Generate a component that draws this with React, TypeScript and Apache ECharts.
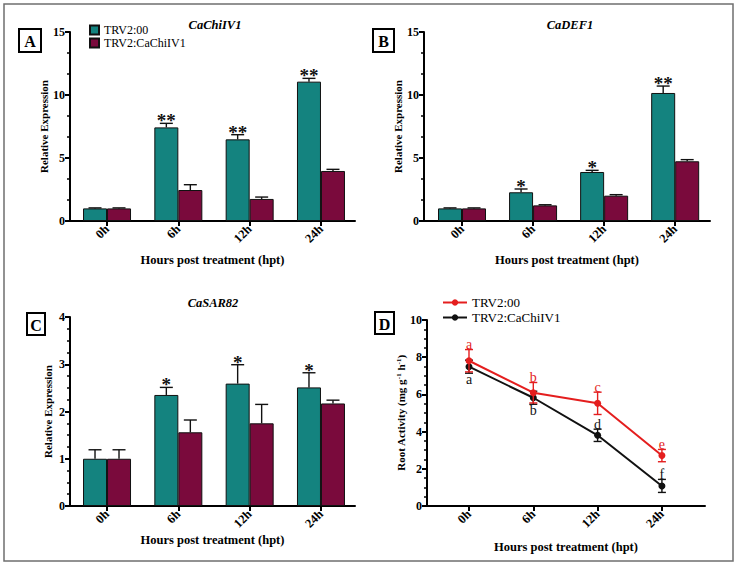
import React, { useEffect, useRef } from 'react';
import * as echarts from 'echarts';

const FONT = "'Liberation Serif', 'Times New Roman', serif";

// ---------- data ----------
const hours = ['0h', '6h', '12h', '24h'];
const groupNames = ['TRV2:00', 'TRV2:CaChiIV1'];
const xPositions = [0, 1, 2, 3];

// Panel A: CaChiIV1
const aCtrl = [1.0, 7.43, 6.48, 11.06];
const aCtrlErr = [0.04, 0.32, 0.37, 0.26];
const aSil = [1.0, 2.46, 1.75, 3.97];
const aSilErr = [0.04, 0.42, 0.15, 0.13];
const aStars = ['', '**', '**', '**'];

// Panel B: CaDEF1
const bCtrl = [1.0, 2.28, 3.89, 10.16];
const bCtrlErr = [0.04, 0.26, 0.13, 0.55];
const bSil = [1.0, 1.24, 2.01, 4.74];
const bSilErr = [0.04, 0.05, 0.08, 0.13];
const bStars = ['', '*', '*', '**'];

// Panel C: CaSAR82
const cCtrl = [1.0, 2.35, 2.59, 2.51];
const cCtrlErr = [0.19, 0.16, 0.4, 0.31];
const cSil = [1.0, 1.56, 1.75, 2.17];
const cSilErr = [0.19, 0.26, 0.4, 0.07];
const cStars = ['', '*', '*', '*'];

// Panel D: root activity
const dCtrl = [7.81, 6.09, 5.52, 2.71];
const dCtrlErr = [0.6, 0.55, 0.6, 0.33];
const dSil = [7.49, 5.82, 3.8, 1.08];
const dSilErr = [0.35, 0.35, 0.33, 0.35];
const dCtrlLetters = ['a', 'b', 'c', 'e'];
const dCtrlLetterSide = ['above', 'above', 'above', 'above'];
const dSilLetters = ['a', 'b', 'd', 'f'];
const dSilLetterSide = ['below', 'below', 'above', 'above'];

const panelTitles = ['CaChiIV1', 'CaDEF1', 'CaSAR82'];
const panelLetters = ['A', 'B', 'C', 'D'];
const xName = 'Hours post treatment (hpt)';
const yNameExp = 'Relative Expression';
const yNameRoot = 'Root Activity (mg g{s|-1} h{s|-1})';

// ---------- styles ----------
const TEAL = '#14837f';
const MAROON = '#7a0a3c';
const RED = '#e41e1e';
const BLACK = '#111111';
const D_SUFFIX = ' (D)';

const grids = [
  { left: 70, top: 32, width: 285, height: 189 },
  { left: 424, top: 32, width: 286, height: 189 },
  { left: 70, top: 317, width: 285, height: 189 },
  { left: 427, top: 320, width: 278, height: 186 },
];
const xRanges = [
  [-0.519, 3.477],
  [-0.535, 3.49],
  [-0.519, 3.477],
  [-0.653, 3.67],
];
const yScales = [
  { max: 15, step: 5, minor: 3, nameGap: 17, xNameGap: 32, name: yNameExp },
  { max: 15, step: 5, minor: 3, nameGap: 17, xNameGap: 32, name: yNameExp },
  { max: 4, step: 1, minor: 4, nameGap: 17, xNameGap: 26, name: yNameExp },
  { max: 10, step: 2, minor: 4, nameGap: 21, xNameGap: 34, name: yNameRoot },
];

function makeX(i: number) {
  return {
    type: 'value',
    gridIndex: i,
    min: xRanges[i][0],
    max: xRanges[i][1],
    axisLine: { show: true, onZero: false, lineStyle: { color: '#000', width: 2 } },
    axisTick: { show: true, customValues: xPositions, length: 5, lineStyle: { color: '#000', width: 2 } },
    axisLabel: {
      customValues: xPositions,
      formatter: (v: number) => hours[Math.round(v)] ?? '',
      rotate: 45,
      margin: 6,
      fontFamily: FONT,
      fontWeight: 'bold',
      fontSize: 12.5,
      color: '#000',
    },
    splitLine: { show: false },
    name: xName,
    nameLocation: 'middle',
    nameGap: yScales[i].xNameGap,
    nameTextStyle: { fontFamily: FONT, fontWeight: 'bold', fontSize: 12.5, color: '#000' },
  };
}

function makeY(i: number) {
  const s = yScales[i];
  return {
    type: 'value',
    gridIndex: i,
    min: 0,
    max: s.max,
    interval: s.step,
    axisLine: { show: true, onZero: false, lineStyle: { color: '#000', width: 2 } },
    axisTick: { show: true, length: 5, lineStyle: { color: '#000', width: 2 } },
    minorTick: { show: true, splitNumber: s.minor, length: 3, lineStyle: { color: '#000', width: 1.5 } },
    axisLabel: { margin: 5, fontFamily: FONT, fontWeight: 'bold', fontSize: 12, color: '#000' },
    splitLine: { show: false },
    minorSplitLine: { show: false },
    name: s.name,
    nameLocation: 'middle',
    nameGap: s.nameGap,
    nameTextStyle: {
      fontFamily: FONT,
      fontWeight: 'bold',
      fontSize: 11,
      color: '#000',
      rich: { s: { fontFamily: FONT, fontWeight: 'bold', fontSize: 7, verticalAlign: 'top', color: '#000' } },
    },
  };
}

function barErrRender(dx: number, stars: string[] | null) {
  return (params: any, api: any) => {
    const x = api.value(0);
    const y = api.value(1);
    const e = api.value(2);
    const base = api.coord([x, y]);
    const top = api.coord([x, y + e]);
    const cx = base[0] + dx;
    const ls = { stroke: BLACK, lineWidth: 1.4 };
    const children: any[] = [
      { type: 'line', shape: { x1: cx, y1: base[1], x2: cx, y2: top[1] }, style: ls },
      { type: 'line', shape: { x1: cx - 6.5, y1: top[1], x2: cx + 6.5, y2: top[1] }, style: ls },
    ];
    const s = stars ? stars[params.dataIndex] : '';
    if (s) {
      children.push({
        type: 'text',
        x: cx,
        y: top[1] + 7,
        style: {
          text: s,
          fill: BLACK,
          font: `bold 19px ${FONT}`,
          align: 'center',
          verticalAlign: 'bottom',
          textAlign: 'center',
          textVerticalAlign: 'bottom',
        },
      });
    }
    return { type: 'group', children };
  };
}

function lineErrRender(color: string, letters: string[], sides: string[]) {
  return (params: any, api: any) => {
    const x = api.value(0);
    const y = api.value(1);
    const e = api.value(2);
    const c = api.coord([x, y]);
    const t = api.coord([x, y + e]);
    const b = api.coord([x, y - e]);
    const ls = { stroke: color, lineWidth: 1.4 };
    const side = sides[params.dataIndex];
    const ly = side === 'above' ? t[1] + 2 : b[1] - 1;
    const va = side === 'above' ? 'bottom' : 'top';
    return {
      type: 'group',
      children: [
        { type: 'line', shape: { x1: c[0], y1: t[1], x2: c[0], y2: b[1] }, style: ls },
        { type: 'line', shape: { x1: c[0] - 4, y1: t[1], x2: c[0] + 4, y2: t[1] }, style: ls },
        { type: 'line', shape: { x1: c[0] - 4, y1: b[1], x2: c[0] + 4, y2: b[1] }, style: ls },
        {
          type: 'text',
          x: c[0],
          y: ly,
          style: {
            text: letters[params.dataIndex],
            fill: color,
            font: `14px ${FONT}`,
            align: 'center',
            verticalAlign: va,
            textAlign: 'center',
            textVerticalAlign: va,
          },
        },
      ],
    };
  };
}

const pairs = (vals: number[]) => vals.map((v, i) => [xPositions[i], v]);
const triples = (vals: number[], errs: number[]) => vals.map((v, i) => [xPositions[i], v, errs[i]]);

function barPanel(i: number, ctrl: number[], ctrlErr: number[], sil: number[], silErr: number[], stars: string[]) {
  return [
    {
      type: 'bar',
      name: groupNames[0],
      xAxisIndex: i,
      yAxisIndex: i,
      data: pairs(ctrl),
      barWidth: 24,
      barGap: '0%',
      itemStyle: { color: TEAL, borderColor: BLACK, borderWidth: 1 },
    },
    {
      type: 'bar',
      name: groupNames[1],
      xAxisIndex: i,
      yAxisIndex: i,
      data: pairs(sil),
      barWidth: 24,
      barGap: '0%',
      itemStyle: { color: MAROON, borderColor: BLACK, borderWidth: 1 },
    },
    {
      type: 'custom',
      xAxisIndex: i,
      yAxisIndex: i,
      data: triples(ctrl, ctrlErr),
      renderItem: barErrRender(-12, stars),
      silent: true,
      z: 3,
    },
    {
      type: 'custom',
      xAxisIndex: i,
      yAxisIndex: i,
      data: triples(sil, silErr),
      renderItem: barErrRender(12, null),
      silent: true,
      z: 3,
    },
  ];
}

function textStyle(text: string, x: number, y: number, font: string) {
  return {
    type: 'text',
    x,
    y,
    style: {
      text,
      font,
      fill: '#000',
      align: 'center',
      verticalAlign: 'middle',
      textAlign: 'center',
      textVerticalAlign: 'middle',
    },
  };
}

const boxes = [
  { x: 19, y: 29, w: 22, h: 23 },
  { x: 373, y: 29, w: 21, h: 23 },
  { x: 27, y: 313, w: 18, h: 22 },
  { x: 375, y: 312, w: 19, h: 22 },
];
const titlePos = [
  { x: 215, y: 25 },
  { x: 570, y: 25 },
  { x: 213, y: 303 },
];

function buildOption() {
  const graphic: any[] = [
    {
      type: 'rect',
      shape: { x: 4, y: 4, width: 729, height: 557 },
      style: { fill: 'none', stroke: '#6f6f6f', lineWidth: 1.5 },
      silent: true,
    },
  ];
  boxes.forEach((b, k) => {
    graphic.push({
      type: 'rect',
      shape: { x: b.x, y: b.y, width: b.w, height: b.h },
      style: { fill: '#fff', stroke: '#000', lineWidth: 2 },
    });
    graphic.push(textStyle(panelLetters[k], b.x + b.w / 2, b.y + b.h / 2 + 1, `bold 16px ${FONT}`));
  });
  titlePos.forEach((p, k) => {
    graphic.push(textStyle(panelTitles[k], p.x, p.y, `italic bold 12.5px ${FONT}`));
  });

  return {
    animation: false,
    backgroundColor: '#fff',
    grid: grids,
    xAxis: [0, 1, 2, 3].map(makeX),
    yAxis: [0, 1, 2, 3].map(makeY),
    legend: [
      {
        left: 84,
        top: 19,
        orient: 'vertical',
        itemWidth: 9,
        itemHeight: 9,
        itemGap: 1,
        icon: 'rect',
        data: groupNames,
        textStyle: { fontFamily: FONT, fontSize: 12, color: '#000', lineHeight: 12 },
      },
      {
        left: 437,
        top: 291,
        orient: 'vertical',
        itemWidth: 24,
        itemHeight: 8,
        itemGap: 2,
        data: groupNames.map((n) => n + D_SUFFIX),
        formatter: (n: string) => n.replace(D_SUFFIX, ''),
        textStyle: { fontFamily: FONT, fontSize: 13, color: '#000', lineHeight: 13 },
      },
    ],
    graphic,
    series: [
      ...barPanel(0, aCtrl, aCtrlErr, aSil, aSilErr, aStars),
      ...barPanel(1, bCtrl, bCtrlErr, bSil, bSilErr, bStars),
      ...barPanel(2, cCtrl, cCtrlErr, cSil, cSilErr, cStars),
      {
        type: 'line',
        name: groupNames[1] + D_SUFFIX,
        xAxisIndex: 3,
        yAxisIndex: 3,
        data: pairs(dSil),
        symbol: 'circle',
        symbolSize: 7,
        lineStyle: { color: BLACK, width: 2 },
        itemStyle: { color: BLACK },
        z: 4,
      },
      {
        type: 'line',
        name: groupNames[0] + D_SUFFIX,
        xAxisIndex: 3,
        yAxisIndex: 3,
        data: pairs(dCtrl),
        symbol: 'circle',
        symbolSize: 7,
        lineStyle: { color: RED, width: 2 },
        itemStyle: { color: RED },
        z: 5,
      },
      {
        type: 'custom',
        xAxisIndex: 3,
        yAxisIndex: 3,
        data: triples(dSil, dSilErr),
        renderItem: lineErrRender(BLACK, dSilLetters, dSilLetterSide),
        silent: true,
        z: 4,
      },
      {
        type: 'custom',
        xAxisIndex: 3,
        yAxisIndex: 3,
        data: triples(dCtrl, dCtrlErr),
        renderItem: lineErrRender(RED, dCtrlLetters, dCtrlLetterSide),
        silent: true,
        z: 5,
      },
    ],
  };
}

export default function App() {
  const ref = useRef<HTMLDivElement>(null);
  useEffect(() => {
    document.body.style.margin = '0';
    const chart = echarts.init(ref.current as HTMLDivElement, undefined, { renderer: 'svg' });
    chart.setOption(buildOption() as any);
    return () => chart.dispose();
  }, []);
  return <div ref={ref} style={{ width: 740, height: 568, background: '#fff' }} />;
}
